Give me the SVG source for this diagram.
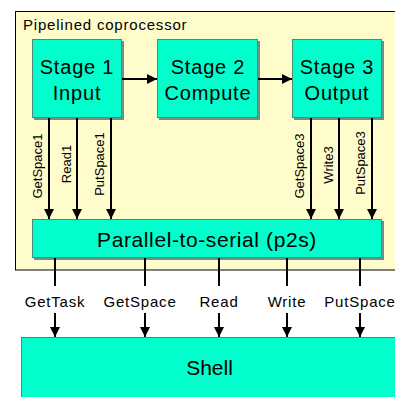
<svg xmlns="http://www.w3.org/2000/svg" width="395" height="397" viewBox="0 0 395 397">
  <defs>
    <marker id="arr" viewBox="0 0 10 10" refX="10" refY="5" markerWidth="10" markerHeight="10" markerUnits="userSpaceOnUse" orient="auto">
      <path d="M0,0 L10,5 L0,10 Z" fill="#000"/>
    </marker>
  </defs>
  <style>
    text { font-family: "Liberation Sans", Arial, sans-serif; fill: #000; }
    .box { fill: #00FFCC; stroke: #4a8a7c; stroke-width: 1; }
    .shadow { fill: #6f8f88; }
    .stage { font-size: 20px; letter-spacing: 0.8px; text-anchor: middle; }
    .sig { font-size: 13px; text-anchor: middle; }
    .bus { font-size: 15px; letter-spacing: 0.8px; text-anchor: middle; }
    .wire { stroke: #000; stroke-width: 2; fill: none; }
    .arrow { stroke: #000; stroke-width: 2; fill: none; marker-end: url(#arr); }
  </style>

  <rect width="395" height="397" fill="#fff"/>

  <!-- coprocessor boundary -->
  <g id="coprocessor">
    <rect x="15.5" y="11.5" width="390" height="258.5" fill="#FFFCCC" stroke="#000" stroke-width="1"/>
    <text x="23" y="29.5" font-size="15" letter-spacing="0.8">Pipelined coprocessor</text>
  </g>

  <g id="stage1">
    <rect class="shadow" x="34" y="41" width="90" height="79"/>
    <rect class="box" x="32.5" y="39.5" width="89" height="78"/>
    <text class="stage" x="77" y="74">Stage 1</text>
    <text class="stage" x="77" y="100">Input</text>
  </g>

  <g id="stage2">
    <rect class="shadow" x="159" y="41" width="101" height="79"/>
    <rect class="box" x="157.5" y="39.5" width="100" height="78"/>
    <text class="stage" x="208" y="74">Stage 2</text>
    <text class="stage" x="208" y="100">Compute</text>
  </g>

  <g id="stage3">
    <rect class="shadow" x="294" y="41" width="90" height="79"/>
    <rect class="box" x="292.5" y="39.5" width="89" height="78"/>
    <text class="stage" x="337" y="74">Stage 3</text>
    <text class="stage" x="337" y="100">Output</text>
  </g>

  <g id="p2s">
    <rect class="shadow" x="34" y="221" width="350" height="39"/>
    <rect class="box" x="32.5" y="219.5" width="349" height="38"/>
    <text x="207" y="247" font-size="21" letter-spacing="0.6" text-anchor="middle">Parallel-to-serial (p2s)</text>
  </g>

  <g id="shell">
    <rect class="box" x="21.5" y="337.5" width="380" height="70"/>
    <text x="209.5" y="375" font-size="21" text-anchor="middle">Shell</text>
  </g>

  <g id="connectors">
    <!-- pipeline between stages -->
    <line class="arrow" x1="122" y1="79" x2="157" y2="79"/>
    <line class="arrow" x1="258" y1="79" x2="292" y2="79"/>

    <!-- stage 1 to p2s -->
    <line class="arrow" x1="49" y1="118" x2="49" y2="219"/>
    <line class="arrow" x1="77" y1="118" x2="77" y2="219"/>
    <line class="arrow" x1="111" y1="118" x2="111" y2="219"/>

    <!-- stage 3 to p2s -->
    <line class="arrow" x1="311" y1="118" x2="311" y2="219"/>
    <line class="arrow" x1="339" y1="118" x2="339" y2="219"/>
    <line class="arrow" x1="372" y1="118" x2="372" y2="219"/>

    <!-- p2s to shell -->
    <line class="wire" x1="55" y1="258" x2="55" y2="286"/>
    <line class="arrow" x1="55" y1="313" x2="55" y2="337"/>
    <line class="wire" x1="145" y1="258" x2="145" y2="286"/>
    <line class="arrow" x1="145" y1="313" x2="145" y2="337"/>
    <line class="wire" x1="219" y1="258" x2="219" y2="286"/>
    <line class="arrow" x1="219" y1="313" x2="219" y2="337"/>
    <line class="wire" x1="287" y1="258" x2="287" y2="286"/>
    <line class="arrow" x1="287" y1="313" x2="287" y2="337"/>
    <line class="wire" x1="360" y1="258" x2="360" y2="286"/>
    <line class="arrow" x1="360" y1="313" x2="360" y2="337"/>

    <!-- signal labels -->
    <text class="sig" transform="translate(42,166) rotate(-90)">GetSpace1</text>
    <text class="sig" transform="translate(71,164) rotate(-90)">Read1</text>
    <text class="sig" transform="translate(104,164) rotate(-90)">PutSpace1</text>
    <text class="sig" transform="translate(304,166) rotate(-90)">GetSpace3</text>
    <text class="sig" transform="translate(333,165) rotate(-90)">Write3</text>
    <text class="sig" transform="translate(365,163) rotate(-90)">PutSpace3</text>

    <text class="bus" x="55" y="307">GetTask</text>
    <text class="bus" x="140" y="307">GetSpace</text>
    <text class="bus" x="219" y="307">Read</text>
    <text class="bus" x="287" y="307">Write</text>
    <text class="bus" x="360" y="307">PutSpace</text>
  </g>
</svg>
